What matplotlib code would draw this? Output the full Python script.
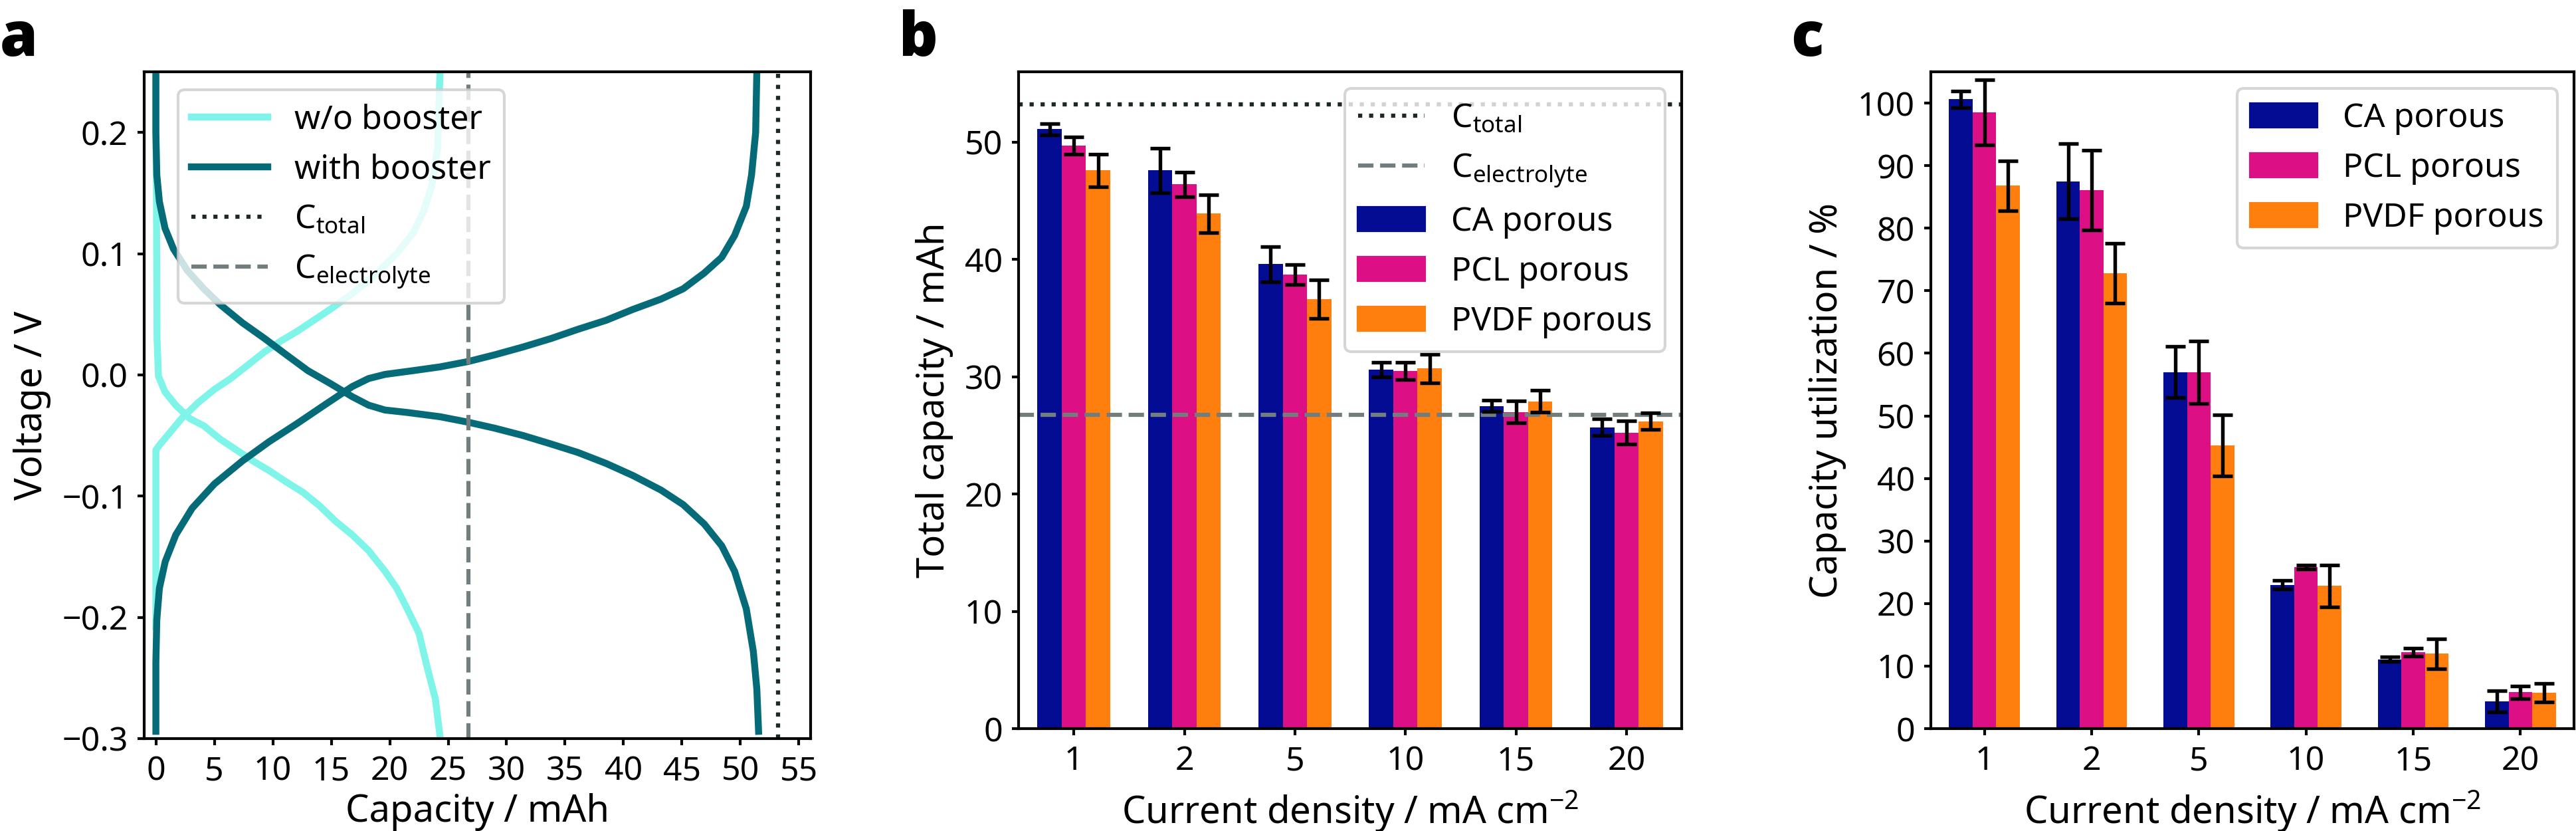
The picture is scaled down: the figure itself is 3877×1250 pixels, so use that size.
import matplotlib
matplotlib.use("Agg")
import matplotlib.pyplot as plt
from matplotlib.lines import Line2D
from matplotlib.patches import Patch
import numpy as np

plt.rcParams['font.family'] = ['Noto Sans', 'DejaVu Sans']
plt.rcParams['mathtext.default'] = 'regular'

# ---------------- Panel a data (capacity mAh, voltage V) ----------------
wo_dis_cap = [0.0, 0.0, 0.05, 0.1, 0.22, 0.78, 1.7, 2.9, 4.1, 5.5, 6.9, 8.3, 9.7, 11.1, 12.6,
              14.0, 15.4, 16.8, 18.2, 19.6, 20.6, 21.5, 22.5, 23.2, 23.9, 24.3]
wo_dis_v = [0.245, 0.2, 0.142, 0.03, -0.001, -0.014, -0.025, -0.036, -0.042, -0.053, -0.062,
            -0.071, -0.079, -0.088, -0.097, -0.108, -0.121, -0.132, -0.145, -0.162, -0.176,
            -0.193, -0.213, -0.241, -0.267, -0.298]

wo_chg_cap = [0.0, 0.0, 0.3, 1.25, 2.2, 3.6, 5.0, 6.4, 7.85, 9.3, 10.7, 12.1, 13.5, 14.9, 16.8,
              18.7, 20.6, 22.0, 22.9, 23.6, 24.1, 24.3]
wo_chg_v = [-0.208, -0.062, -0.058, -0.047, -0.036, -0.023, -0.012, -0.003, 0.008, 0.019, 0.028,
            0.036, 0.045, 0.054, 0.067, 0.082, 0.1, 0.117, 0.135, 0.156, 0.187, 0.25]

wb_dis_cap = [0.0, 0.0, 0.08, 0.3, 0.78, 1.5, 2.7, 4.1, 5.5, 7.4, 9.3, 11.1, 13.0, 14.9, 16.8,
              18.2, 19.6, 21.5, 24.3, 26.7, 29.0, 31.4, 33.8, 36.1, 38.5, 40.8, 43.2, 45.1, 46.9,
              48.4, 49.5, 50.5, 51.1, 51.4, 51.55]
wb_dis_v = [0.246, 0.2, 0.165, 0.143, 0.121, 0.104, 0.086, 0.071, 0.058, 0.043, 0.030, 0.017,
            0.0035, -0.007, -0.018, -0.025, -0.029, -0.031, -0.0345, -0.039, -0.044, -0.050,
            -0.057, -0.064, -0.073, -0.083, -0.095, -0.107, -0.123, -0.141, -0.162, -0.193,
            -0.228, -0.259, -0.294]

wb_chg_cap = [0.0, 0.0, 0.08, 0.3, 0.8, 1.7, 3.1, 5.0, 7.4, 9.7, 12.1, 14.4, 16.8, 18.2, 19.6,
              22.0, 24.3, 26.7, 29.0, 31.4, 33.8, 36.1, 38.5, 40.8, 43.2, 45.1, 46.9, 48.4, 49.5,
              50.5, 50.95, 51.3, 51.4]
wb_chg_v = [-0.294, -0.237, -0.202, -0.176, -0.154, -0.132, -0.110, -0.090, -0.071, -0.055,
            -0.040, -0.025, -0.0096, -0.003, 0.0004, 0.0035, 0.0066, 0.011, 0.0166, 0.023, 0.030,
            0.0376, 0.045, 0.054, 0.0625, 0.071, 0.084, 0.097, 0.115, 0.139, 0.165, 0.2, 0.25]

C_total = 53.2
C_electrolyte = 26.75

# ---------------- Panels b, c data ----------------
current_density = ['1', '2', '5', '10', '15', '20']
series_names = ['CA porous', 'PCL porous', 'PVDF porous']

cap_CA = [51.1, 47.6, 39.6, 30.6, 27.5, 25.7]
cap_CA_err = [0.5, 1.9, 1.5, 0.63, 0.48, 0.7]
cap_PCL = [49.7, 46.4, 38.7, 30.5, 27.0, 25.25]
cap_PCL_err = [0.75, 1.05, 0.85, 0.73, 0.95, 1.0]
cap_PVDF = [47.6, 43.9, 36.6, 30.7, 27.9, 26.2]
cap_PVDF_err = [1.4, 1.6, 1.65, 1.22, 0.93, 0.7]

util_CA = [100.6, 87.5, 57.0, 23.0, 11.1, 4.4]
util_CA_err = [1.3, 6.0, 4.1, 0.65, 0.35, 1.7]
util_PCL = [98.5, 86.1, 57.0, 25.8, 12.2, 5.8]
util_PCL_err = [5.2, 6.4, 5.0, 0.3, 0.65, 1.05]
util_PVDF = [86.8, 72.8, 45.3, 22.8, 12.0, 5.7]
util_PVDF_err = [4.0, 4.8, 4.9, 3.35, 2.4, 1.5]

# ---------------- styling ----------------
c_wo = '#7ef5e8'
c_wb = '#066b78'
c_dot = '#1e282b'
c_dash = '#727e7e'
bar_colors = ['#030c92', '#dc0f85', '#ff7f0e']
TICK = 12
LABEL = 13.5
LEG = 12

W, H = 3877, 1250
fig = plt.figure(figsize=(W / 300, H / 300), dpi=300)

def style_axes(ax):
    for s in ax.spines.values():
        s.set_linewidth(1.0)
    ax.tick_params(labelsize=TICK, length=2.3, width=1.0)

# Panel a
axa = fig.add_axes([217 / W, 1 - 1111 / H, (1220 - 217) / W, (1111 - 108) / H])
axa.plot(wo_dis_cap, wo_dis_v, color=c_wo, lw=2.5)
axa.plot(wo_chg_cap, wo_chg_v, color=c_wo, lw=2.5)
axa.plot(wb_dis_cap, wb_dis_v, color=c_wb, lw=2.5)
axa.plot(wb_chg_cap, wb_chg_v, color=c_wb, lw=2.5)
axa.axvline(C_total, color=c_dot, ls=':', lw=1.5)
axa.axvline(C_electrolyte, color=c_dash, ls='--', lw=1.5)
axa.set_xlim(-1, 56)
axa.set_ylim(-0.3, 0.25)
axa.set_xticks(np.arange(0, 56, 5))
axa.set_yticks([-0.3, -0.2, -0.1, 0.0, 0.1, 0.2])
axa.set_xlabel('Capacity / mAh', fontsize=LABEL, labelpad=2)
axa.set_ylabel('Voltage / V', fontsize=LABEL, labelpad=4)
style_axes(axa)
ha = [Line2D([], [], color=c_wo, lw=2.5), Line2D([], [], color=c_wb, lw=2.5),
      Line2D([], [], color=c_dot, ls=':', lw=1.5), Line2D([], [], color=c_dash, ls='--', lw=1.5)]
axa.legend(ha, ['w/o booster', 'with booster', 'C$_{total}$', 'C$_{electrolyte}$'],
           loc='upper left', bbox_to_anchor=(0.051, 0.973), borderaxespad=0,
           fontsize=LEG, handlelength=2.3)

# bar panels
x = np.arange(len(current_density))
bw = 0.22
ekw = dict(elinewidth=1.3, capthick=1.3, ecolor='black', zorder=3)

def bars(ax, vals, errs):
    handles = []
    for i, (v, e) in enumerate(zip(vals, errs)):
        ax.bar(x + (i - 1) * bw, v, bw, yerr=e, color=bar_colors[i], capsize=3.6,
               error_kw=ekw, zorder=1)
        handles.append(Patch(color=bar_colors[i]))
    return handles

# Panel b
axb = fig.add_axes([1533 / W, 1 - 1096 / H, (2531 - 1533) / W, (1096 - 108) / H])
hb = bars(axb, [cap_CA, cap_PCL, cap_PVDF], [cap_CA_err, cap_PCL_err, cap_PVDF_err])
axb.axhline(C_total, color=c_dot, ls=':', lw=1.5, zorder=2)
axb.axhline(C_electrolyte, color=c_dash, ls='--', lw=1.5, zorder=2)
axb.set_xlim(-0.5, 5.5)
axb.set_ylim(0, 56)
axb.set_xticks(x)
axb.set_xticklabels(current_density)
axb.set_yticks(np.arange(0, 51, 10))
axb.set_xlabel('Current density / mA cm$^{-2}$', fontsize=LABEL, labelpad=4)
axb.set_ylabel('Total capacity / mAh', fontsize=LABEL, labelpad=4)
style_axes(axb)
axb.legend([Line2D([], [], color=c_dot, ls=':', lw=1.5), Line2D([], [], color=c_dash, ls='--', lw=1.5)] + hb,
           ['C$_{total}$', 'C$_{electrolyte}$'] + series_names, loc='upper right', fontsize=LEG)

# Panel c
axc = fig.add_axes([2906 / W, 1 - 1096 / H, (3874 - 2906) / W, (1096 - 108) / H])
hc = bars(axc, [util_CA, util_PCL, util_PVDF], [util_CA_err, util_PCL_err, util_PVDF_err])
axc.set_xlim(-0.5, 5.5)
axc.set_ylim(0, 105)
axc.set_xticks(x)
axc.set_xticklabels(current_density)
axc.set_yticks(np.arange(0, 101, 10))
axc.set_xlabel('Current density / mA cm$^{-2}$', fontsize=LABEL, labelpad=4)
axc.set_ylabel('Capacity utilization / %', fontsize=LABEL, labelpad=4)
style_axes(axc)
axc.legend(hc, series_names, loc='upper right', fontsize=LEG)

# panel letters
for lx, letter in [(0, 'a'), (1353, 'b'), (2695, 'c')]:
    fig.text(lx / W, 1 - 84 / H, letter, fontsize=22, fontweight='heavy',
             family=['Open Sans', 'Lato', 'DejaVu Sans'], ha='left', va='baseline')

fig.savefig('out.png', dpi=300)
